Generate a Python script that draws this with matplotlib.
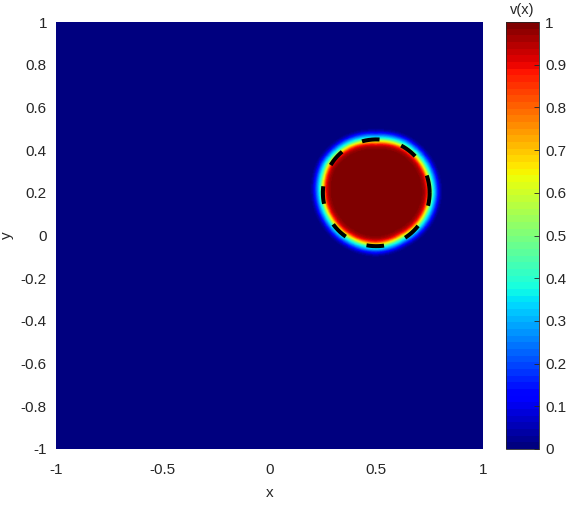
import numpy as np
import matplotlib
matplotlib.use('Agg')
import matplotlib.pyplot as plt

# ---- data ----
blob_center = (0.5, 0.2)
boundary_angles_deg = [0, 30, 60, 90, 120, 150, 180, 210, 240, 270, 300, 330]
boundary_radii = [0.240, 0.240, 0.238, 0.228, 0.238, 0.245, 0.235, 0.228, 0.226, 0.228, 0.222, 0.232]
profile_dist = [-0.03, -0.012, 0.0, 0.0075, 0.015, 0.026, 0.039, 0.051, 0.062, 0.075]
profile_v = [1.0, 0.96, 0.88, 0.75, 0.62, 0.42, 0.28, 0.15, 0.05, 0.0]

circle_center = (0.5, 0.2)
circle_radius = 0.25

x_ticks = [-1, -0.5, 0, 0.5, 1]
x_tick_labels = ['-1', '-0.5', '0', '0.5', '1']
y_ticks = [-1, -0.8, -0.6, -0.4, -0.2, 0, 0.2, 0.4, 0.6, 0.8, 1]
y_tick_labels = ['-1', '-0.8', '-0.6', '-0.4', '-0.2', '0', '0.2', '0.4', '0.6', '0.8', '1']
cbar_ticks = [0, 0.1, 0.2, 0.3, 0.4, 0.5, 0.6, 0.7, 0.8, 0.9, 1]
cbar_tick_labels = ['0', '0.1', '0.2', '0.3', '0.4', '0.5', '0.6', '0.7', '0.8', '0.9', '1']

# ---- build field ----
n = 500
xs = np.linspace(-1, 1, n)
X, Y = np.meshgrid(xs, xs)
dx = X - blob_center[0]
dy = Y - blob_center[1]
r = np.hypot(dx, dy)
th = np.degrees(np.arctan2(dy, dx)) % 360
R = np.interp(th, boundary_angles_deg, boundary_radii, period=360)
V = np.interp(r - R, profile_dist, profile_v)

plt.rcParams['font.family'] = ['Liberation Sans', 'DejaVu Sans']
txt = '#262626'
fs = 11

W, H = 570, 508
fig = plt.figure(figsize=(W / 100, H / 100), dpi=100)
ax = fig.add_axes([56 / W, 59 / H, 427 / W, 427 / H])
cmap = plt.get_cmap('jet', 64)
im = ax.imshow(V, origin='lower', extent=[-1, 1, -1, 1], cmap=cmap, vmin=0, vmax=1,
               interpolation='bilinear', aspect='auto')

t = np.linspace(0, 2 * np.pi, 721)
ax.plot(circle_center[0] + circle_radius * np.cos(t),
        circle_center[1] + circle_radius * np.sin(t),
        color='black', lw=2.9, dashes=(12.7 / 2.9, 16.3 / 2.9), dash_capstyle='butt')

ax.set_xlim(-1, 1)
ax.set_ylim(-1, 1)
ax.set_xticks(x_ticks, x_tick_labels)
ax.set_yticks(y_ticks, y_tick_labels)
ax.tick_params(length=0, labelsize=fs, labelcolor=txt)
ax.tick_params(axis='x', pad=10)
ax.tick_params(axis='y', pad=6.5)
for s in ax.spines.values():
    s.set_visible(False)

fig.text(270 / W, 1 - 493 / H, 'x', ha='center', va='center', fontsize=fs, color=txt)
fig.text(7 / W, 1 - 235 / H, 'y', ha='center', va='center', fontsize=fs, color=txt, rotation=90)

cax = fig.add_axes([506 / W, 59 / H, 33 / W, 427 / H])
cb = fig.colorbar(im, cax=cax, ticks=cbar_ticks)
cb.set_ticklabels(cbar_tick_labels)
cb.outline.set_edgecolor('#262626')
cb.outline.set_linewidth(0.6)
cax.tick_params(direction='in', length=3.8, width=0.6, color='#262626',
                labelsize=fs, labelcolor=txt, pad=4.5)
fig.text(522.5 / W, 1 - 10 / H, 'v(x)', ha='center', va='center', fontsize=10.5, color=txt)

fig.savefig('out.png', dpi=100)
